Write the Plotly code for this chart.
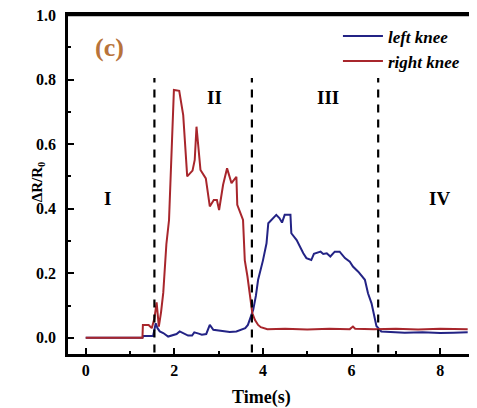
import plotly.graph_objects as go

# ---- data ----
left_t = [0, 1.28, 1.30, 1.52, 1.58, 1.62, 1.67, 1.75, 1.86, 1.96, 2.05, 2.12, 2.20, 2.31, 2.40,
          2.45, 2.55, 2.62, 2.72, 2.80, 2.88, 3.00, 3.10, 3.25, 3.40, 3.48, 3.60, 3.66, 3.72, 3.78,
          3.84, 3.89, 4.00, 4.08, 4.12, 4.19, 4.30, 4.37, 4.43, 4.49, 4.62, 4.64, 4.76, 4.91, 4.98,
          5.09, 5.15, 5.30, 5.36, 5.44, 5.52, 5.62, 5.73, 5.85, 5.96, 6.03, 6.15, 6.30, 6.37, 6.45,
          6.52, 6.56, 6.67, 6.86, 7.2, 7.6, 8.0, 8.3, 8.62]
left_v = [0.0, 0.0, 0.006, 0.006, 0.045, 0.03, 0.02, 0.015, 0.004, 0.009, 0.012, 0.02, 0.014, 0.007, 0.007,
          0.017, 0.013, 0.01, 0.012, 0.04, 0.025, 0.023, 0.02, 0.018, 0.02, 0.025, 0.03, 0.04, 0.066, 0.087,
          0.13, 0.18, 0.24, 0.293, 0.355, 0.365, 0.381, 0.371, 0.357, 0.381, 0.381, 0.324, 0.303, 0.262, 0.247,
          0.241, 0.26, 0.267, 0.26, 0.262, 0.252, 0.267, 0.267, 0.247, 0.236, 0.221, 0.205, 0.18, 0.138, 0.107,
          0.066, 0.037, 0.02, 0.018, 0.016, 0.017, 0.015, 0.016, 0.017]

right_t = [0, 1.28, 1.29, 1.42, 1.49, 1.55, 1.60, 1.65, 1.70, 1.75, 1.82, 1.88, 1.99, 2.11, 2.20,
           2.29, 2.41, 2.46, 2.50, 2.59, 2.71, 2.80, 2.89, 2.96, 3.01, 3.10, 3.19, 3.29, 3.40, 3.42,
           3.55, 3.59, 3.65, 3.70, 3.76, 3.82, 3.89, 3.95, 4.1, 4.5, 5.0, 5.5, 5.96, 6.03, 6.08,
           6.5, 7.0, 7.5, 8.0, 8.62]
right_v = [0, 0, 0.04, 0.04, 0.03, 0.06, 0.11, 0.035, 0.08, 0.14, 0.29, 0.365, 0.768, 0.765, 0.69,
           0.50, 0.518, 0.551, 0.654, 0.52, 0.494, 0.407, 0.427, 0.427, 0.396, 0.474, 0.525, 0.479, 0.499, 0.412,
           0.365, 0.24, 0.19, 0.138, 0.076, 0.055, 0.04, 0.033, 0.027, 0.028, 0.026, 0.028, 0.027, 0.035, 0.028,
           0.027, 0.028, 0.026, 0.028, 0.027]

phase_boundaries = [1.55, 3.75, 6.6]
phase_labels = ["I", "II", "III", "IV"]
phase_label_x = [0.5, 2.91, 5.46, 7.99]
phase_label_y = [0.433, 0.746, 0.746, 0.433]

x_ticks = [0, 2, 4, 6, 8]
y_ticks = [0.0, 0.2, 0.4, 0.6, 0.8, 1.0]

FONT = "Liberation Serif"
BLUE = "#232385"
RED = "#a8262c"

fig = go.Figure()
fig.add_trace(go.Scatter(x=left_t, y=left_v, mode="lines", name="left knee",
                         line=dict(color=BLUE, width=2)))
fig.add_trace(go.Scatter(x=right_t, y=right_v, mode="lines", name="right knee",
                         line=dict(color=RED, width=2)))

for xb in phase_boundaries:
    fig.add_shape(type="line", x0=xb, x1=xb, y0=-0.045, y1=0.805, xref="x", yref="y",
                  line=dict(color="black", width=2.2, dash="8px,7px"))

for lab, lx, ly in zip(phase_labels, phase_label_x, phase_label_y):
    fig.add_annotation(x=lx, y=ly, text=lab, showarrow=False,
                       font=dict(family=FONT, size=19, color="black", weight="bold"))

fig.add_annotation(x=0.54, y=0.90, text="(c)", showarrow=False,
                   font=dict(family=FONT, size=26, color="#b8733a", weight="bold"))

# axis titles
fig.add_annotation(x=0, xref="paper", y=0.507, yref="paper", xshift=-41, text="ΔR/R<sub>0</sub>",
                   textangle=-90, showarrow=False,
                   font=dict(family=FONT, size=15, color="black", weight="bold"))
fig.add_annotation(x=3.97, xref="x", y=0, yref="paper", yshift=-43, yanchor="middle", text="Time(s)",
                   showarrow=False, font=dict(family=FONT, size=18, color="black", weight="bold"))
# cut-off label from neighbouring panel
fig.add_annotation(x=0, xref="paper", y=0, yref="paper", xshift=-59, yshift=-18, yanchor="middle",
                   xanchor="right", text="0", showarrow=False,
                   font=dict(family=FONT, size=16, color="black", weight="bold"))

# top frame line
fig.add_shape(type="line", xref="paper", yref="paper", x0=0, x1=1, y0=1, y1=1,
              layer="above", line=dict(color="black", width=2.5))

fig.update_layout(
    width=469, height=400,
    margin=dict(l=60, r=0, t=7, b=54),
    paper_bgcolor="white", plot_bgcolor="white",
    showlegend=True,
    legend=dict(x=0.66, y=0.99, xanchor="left", yanchor="top", itemwidth=40,
                bgcolor="rgba(0,0,0,0)", tracegroupgap=0,
                font=dict(family=FONT, size=17, color="black", style="italic", weight="bold")),
    font=dict(family=FONT, color="black"),
)
fig.update_xaxes(range=[-0.4, 8.83], showgrid=False, zeroline=False,
                 showline=True, linecolor="black", linewidth=2.5, mirror=True,
                 tickvals=x_ticks, ticktext=[str(v) for v in x_ticks],
                 ticks="inside", ticklen=6, tickwidth=2, tickcolor="black",
                 minor=dict(dtick=1, tick0=0, ticks="inside", ticklen=3, tickwidth=2, tickcolor="black"),
                 tickfont=dict(family=FONT, size=16, color="black", weight="bold"))
fig.update_yaxes(range=[-0.05, 1.0], showgrid=False, zeroline=False,
                 showline=True, linecolor="black", linewidth=2.5,
                 tickvals=y_ticks, ticktext=[f"{v:.1f}" for v in y_ticks],
                 ticks="inside", ticklen=6, tickwidth=2, tickcolor="black",
                 minor=dict(dtick=0.1, tick0=0, ticks="inside", ticklen=3, tickwidth=2, tickcolor="black"),
                 ticklabelstandoff=6, ticklabeloverflow="allow",
                 tickfont=dict(family=FONT, size=16, color="black", weight="bold"))

fig.write_html("out.html")
